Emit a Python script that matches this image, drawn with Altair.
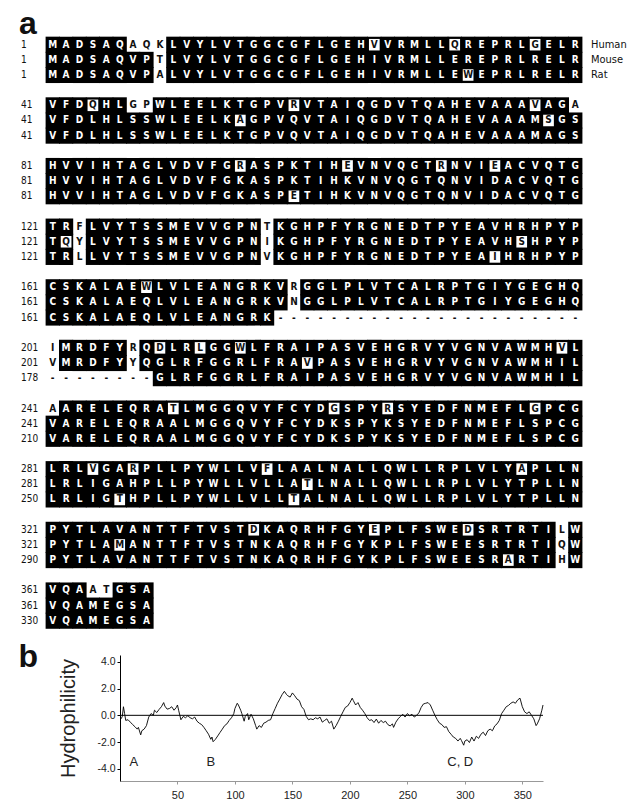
import altair as alt
import pandas as pd

# ---------------- data ----------------
species = ["Human", "Mouse", "Rat"]
human_blocks = [
    "MADSAQAQKLVYLVTGGCGFLGEHVVRMLLQREPRLGELR",
    "VFDQHLGPWLEELKTGPVRVTAIQGDVTQAHEVAAAVAGA",
    "HVVIHTAGLVDVFGRASPKTIHEVNVQGTRNVIEACVQTG",
    "TRFLVYTSSMEVVGPNTKGHPFYRGNEDTPYEAVHRHPYP",
    "CSKALAEWLVLEANGRKVRGGLPLVTCALRPTGIYGEGHQ",
    "IMRDFYRQDLRLGGWLFRAIPASVEHGRVYVGNVAWMHVL",
    "AARELEQRATLMGGQVYFCYDGSPYRSYEDFNMEFLGPCG",
    "LRLVGARPLLPYWLLVFLAALNALLQWLLRPLVLYAPLLN",
    "PYTLAVANTTFTVSTDKAQRHFGYEPLFSWEDSRTRTILW",
    "VQAATGSA",
]
mouse_blocks = [
    "MADSAQVPTLVYLVTGGCGFLGEHIVRMLLEREPRLRELR",
    "VFDLHLSSWLEELKAGPVQVTAIQGDVTQAHEVAAAMSGS",
    "HVVIHTAGLVDVFGKASPKTIHKVNVQGTQNVIDACVQTG",
    "TQYLVYTSSMEVVGPNIKGHPFYRGNEDTPYEAVHSHPYP",
    "CSKALAEQLVLEANGRKVNGGLPLVTCALRPTGIYGEGHQ",
    "VMRDFYYQGLRFGGRLFRAVPASVEHGRVYVGNVAWMHIL",
    "VARELEQRAALMGGQVYFCYDKSPYKSYEDFNMEFLSPCG",
    "LRLIGAHPLLPYWLLVLLATLNALLQWLLRPLVLYTPLLN",
    "PYTLAMANTTFTVSTNKAQRHFGYKPLFSWEESRTRTIQW",
    "VQAMEGSA",
]
rat_blocks = [
    "MADSAQVPALVYLVTGGCGFLGEHIVRMLLEWEPRLRELR",
    "VFDLHLSSWLEELKTGPVQVTAIQGDVTQAHEVAAAMAGS",
    "HVVIHTAGLVDVFGKASPETIHKVNVQGTQNVIDACVQTG",
    "TRLLVYTSSMEVVGPNVKGHPFYRGNEDTPYEAIHRHPYP",
    "CSKALAEQLVLEANGRK-----------------------",
    "--------GLRFGGRLFRAIPASVEHGRVYVGNVAWMHIL",
    "VARELEQRAALMGGQVYFCYDKSPYKSYEDFNMEFLSPCG",
    "LRLIGTHPLLPYWLLVLLTALNALLQWLLRPLVLYTPLLN",
    "PYTLAVANTTFTVSTNKAQRHFGYKPLFSWEESRARTIHW",
    "VQAMEGSA",
]
human_starts = [1, 41, 81, 121, 161, 201, 241, 281, 321, 361]
mouse_starts = [1, 41, 81, 121, 161, 201, 241, 281, 321, 361]
rat_starts = [1, 41, 81, 121, 161, 178, 210, 250, 290, 330]

hyd_pos = [1, 2, 3, 4, 5, 7, 9, 11, 13, 15, 16, 18, 19, 21, 23, 25, 27, 29, 30, 32,
           34, 36, 38, 39, 41, 43, 45, 47, 49, 50, 51, 53, 55, 57, 59, 61, 63, 65, 67, 69,
           71, 73, 75, 77, 79, 80, 81, 83, 85, 87, 89, 91, 93, 95, 97, 99, 100, 102, 103, 105,
           106, 108, 109, 111, 112, 114, 116, 118, 119, 121, 123, 125, 127, 129, 131, 133, 135, 137, 139, 141,
           143, 145, 146, 148, 150, 152, 154, 156, 158, 160, 162, 164, 166, 168, 170, 172, 174, 176, 178, 180,
           182, 184, 186, 188, 190, 192, 194, 196, 198, 200, 202, 203, 205, 207, 209, 211, 213, 215, 217, 219,
           221, 223, 225, 227, 229, 231, 233, 235, 237, 238, 240, 242, 244, 246, 248, 250, 252, 254, 256, 258,
           260, 262, 264, 266, 268, 270, 272, 274, 276, 278, 280, 282, 284, 286, 288, 290, 292, 294, 296, 297,
           299, 300, 302, 304, 306, 308, 310, 312, 314, 316, 318, 320, 322, 324, 326, 328, 330, 332, 334, 336,
           338, 340, 342, 344, 346, 348, 350, 352, 354, 356, 358, 360, 362, 363, 365, 367, 368]
hyd_val = [-0.26, -0.08, 0.64, 0.13, -0.38, -0.33, -0.51, -0.69, -0.85, -1.03, -0.90, -1.46, -1.15, -1.03, -0.77, -0.13, 0.13, 0.0, 0.38, 0.21,
           0.44, 0.64, 0.95, 0.69, 0.46, 0.51, 0.64, 0.38, 0.59, 0.77, 0.38, -0.33, -0.08, -0.18, -0.03, -0.18, -0.26, -0.13, -0.44, -0.59,
           -0.69, -0.90, -1.15, -1.41, -1.79, -1.62, -1.97, -1.79, -1.54, -1.28, -1.03, -0.77, -0.64, -0.38, -0.18, 0.13, 0.51, 0.90, 0.77, 0.38,
           0.13, -0.44, -0.08, 0.13, -0.33, 0.08, -0.26, -0.77, -1.03, -0.77, -0.90, -0.59, -0.51, -0.38, -0.33, 0.13, 0.51, 0.90, 1.21, 1.54,
           1.79, 1.54, 1.46, 1.36, 1.67, 1.46, 1.21, 1.10, 0.64, 0.44, -0.08, -0.33, -0.26, -0.33, -0.18, -0.26, -0.13, -0.51, -0.38, -0.26,
           -0.59, -0.44, -1.03, -0.77, -0.44, -0.08, 0.26, 0.59, 0.69, 0.95, 1.28, 1.10, 0.77, 0.95, 0.59, 0.38, 0.13, -0.18, -0.38, -0.33,
           -0.54, -0.28, -0.59, -0.38, -0.54, -0.44, -0.69, -0.79, -0.64, -0.90, -0.51, -0.26, -0.08, 0.08, -0.13, 0.13, -0.03, 0.08, -0.13, 0.0,
           0.18, 0.59, 0.85, 0.90, 0.95, 0.77, 0.38, 0.0, -0.33, -0.59, -0.69, -0.90, -0.85, -1.21, -1.41, -1.62, -1.72, -1.92, -1.72, -1.87,
           -2.23, -1.92, -1.82, -2.03, -1.62, -1.92, -1.56, -1.72, -1.41, -1.26, -1.51, -1.15, -1.03, -1.15, -0.79, -0.64, -0.38, 0.13, 0.38, 0.64,
           0.74, 0.90, 1.00, 0.90, 1.15, 1.28, 0.64, 0.26, 0.13, 0.26, 0.0, -0.26, -0.77, -0.64, -0.26, 0.38, 0.77]
region_labels = ["A", "B", "C, D"]
region_pos = [12, 79, 296]
region_val = [-3.45, -3.45, -3.45]
x_ticks = [50, 100, 150, 200, 250, 300, 350]
y_ticks = [-4, -2, 0, 2, 4]

# ---------------- build tables ----------------
LINES = 4
cells = []
for b in range(len(human_blocks)):
    rows = [human_blocks[b], mouse_blocks[b], rat_blocks[b]]
    n = len(rows[0])
    state = [[None] * n for _ in range(3)]
    for c in range(n):
        colv = [rows[r][c] for r in range(3)]
        for r in range(3):
            ch = colv[r]
            if ch == "-":
                state[r][c] = "gap"
            elif any(colv[k] == ch for k in range(3) if k != r):
                state[r][c] = "black"
            else:
                state[r][c] = "white"
    for r in range(3):
        for c in range(n):
            st = state[r][c]
            boxed = False
            if st == "white":
                major = any(state[k][c] == "black" for k in range(3))
                lr = 0 < c < n - 1 and state[r][c - 1] == "black" and state[r][c + 1] == "black"
                ud = r == 1 and state[0][c] == "black" and state[2][c] == "black"
                boxed = major and (lr or ud)
            cells.append(dict(col=c + 1, line=b * LINES + r, letter=rows[r][c],
                              state=st, boxed=boxed,
                              tcolor="white" if st == "black" else "#111111"))
cdf = pd.DataFrame(cells)
cdf["x0"] = cdf["col"] - 0.53
cdf["x1"] = cdf["col"] + 0.53
cdf["y0"] = cdf["line"] - 0.53
cdf["y1"] = cdf["line"] + 0.53
cdf["ix0"] = cdf["col"] - 0.40
cdf["ix1"] = cdf["col"] + 0.40
cdf["iy0"] = cdf["line"] - 0.38
cdf["iy1"] = cdf["line"] + 0.38
blk = cdf[(cdf["state"] == "black") | (cdf["boxed"])]
box = cdf[cdf["boxed"]]

num_rows = []
for b in range(len(human_blocks)):
    for r, starts in enumerate([human_starts, mouse_starts, rat_starts]):
        num_rows.append(dict(col=-1.37, line=b * LINES + r, label=str(starts[b])))
ndf = pd.DataFrame(num_rows)
sdf = pd.DataFrame(dict(col=[41.17] * 3, line=[0, 1, 2], label=species))
adf = pd.DataFrame(dict(col=[-1.515], line=[-0.68], label=["a"]))

XS = alt.Scale(domain=[6.022, 43.335], nice=False, zero=False)
YS = alt.Scale(domain=[-2.025, 39.27], nice=False, zero=False, reverse=True)
LFONT = "Liberation Sans Narrow, DejaVu Sans Condensed, Liberation Sans"

def xy(xf, yf):
    return dict(x=alt.X(xf, type="quantitative", scale=XS, axis=None),
                y=alt.Y(yf, type="quantitative", scale=YS, axis=None))

black_rect = alt.Chart(blk).mark_rect(color="black").encode(
    x2="x1:Q", y2="y1:Q", **xy("x0", "y0"))
white_rect = alt.Chart(box).mark_rect(color="white").encode(
    x2="ix1:Q", y2="iy1:Q", **xy("ix0", "iy0"))
letters = alt.Chart(cdf).mark_text(font=LFONT, fontSize=10, fontWeight="bold",
                                   align="center", baseline="middle").encode(
    text="letter:N", color=alt.Color("tcolor:N", scale=None), **xy("col", "line"))
numbers = alt.Chart(ndf).mark_text(font=LFONT, fontSize=10, align="left",
                                   baseline="middle", color="#111").encode(
    text="label:N", **xy("col", "line"))
names = alt.Chart(sdf).mark_text(font=LFONT, fontSize=11, align="left",
                                 baseline="middle", color="#111").encode(
    text="label:N", **xy("col", "line"))
a_lab = alt.Chart(adf).mark_text(font="Liberation Sans", fontSize=32, fontWeight="bold",
                                 align="left", baseline="alphabetic", color="#111").encode(
    text="label:N", **xy("col", "line"))

top = alt.layer(black_rect, white_rect, letters, numbers, names, a_lab).properties(
    width=500, height=626)

# ---------------- hydrophilicity plot ----------------
hdf = pd.DataFrame(dict(pos=hyd_pos, val=hyd_val))
rdf = pd.DataFrame(dict(pos=region_pos, val=region_val, label=region_labels))
zdf = pd.DataFrame(dict(p0=[0], p1=[368], v=[0]))
bdf = pd.DataFrame(dict(pos=[-88.3], val=[3.63], label=["b"]))

HX = alt.Scale(domain=[0, 368], nice=False, zero=False)
HY = alt.Scale(domain=[-4.9, 4.5], nice=False, zero=False)
AX = alt.Axis(values=x_ticks, title=None, grid=False, labelFont="Liberation Sans",
              labelFontSize=11, labelColor="#222", domainColor="#999",
              tickColor="#999", tickSize=3, labelPadding=5,
              labelOverlap=False, labelFlush=False)
AY = alt.Axis(values=y_ticks, grid=False, title="Hydrophilicity",
              labelExpr="datum.value < 0 ? '-' + format(-datum.value, '.1f') : format(datum.value, '.1f')",
              labelFont="Liberation Sans", labelFontSize=10.5, labelColor="#222",
              labelOverlap=False, labelFlush=False,
              domainColor="black", tickColor="black", tickSize=3, labelPadding=2,
              titleFont="Liberation Sans", titleFontSize=20, titleFontWeight="normal",
              titleColor="#222", titlePadding=18)

def hxy(xf, yf):
    return dict(x=alt.X(xf, type="quantitative", scale=HX, axis=AX),
                y=alt.Y(yf, type="quantitative", scale=HY, axis=AY))

curve = alt.Chart(hdf).mark_line(color="black", strokeWidth=0.9).encode(**hxy("pos", "val"))
zero_line = alt.Chart(zdf).mark_rule(color="black", strokeWidth=1).encode(
    x2="p1:Q", **hxy("p0", "v"))
regions = alt.Chart(rdf).mark_text(font="Liberation Sans", fontSize=13, color="#222",
                                   align="center", baseline="middle").encode(
    text="label:N", **hxy("pos", "val"))
b_lab = alt.Chart(bdf).mark_text(font="Liberation Sans", fontSize=32, fontWeight="bold",
                                 align="left", baseline="alphabetic", color="#111").encode(
    text="label:N", **hxy("pos", "val"))

bottom = alt.layer(curve, zero_line, regions, b_lab).properties(width=423, height=126)

chart = alt.vconcat(top, bottom, spacing=0).resolve_scale(
    x="independent", y="independent").properties(
    padding={"left": 10, "top": 0, "right": 0, "bottom": 0}).configure_view(stroke=None)

chart.save("out.html", embed_options={"renderer": "svg", "actions": False})
